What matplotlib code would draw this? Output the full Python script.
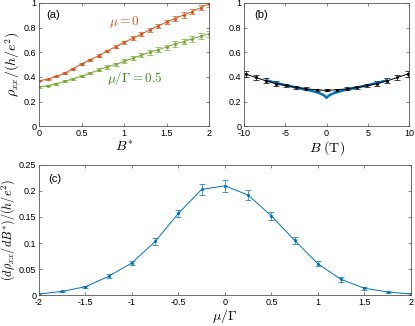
import numpy as np
import matplotlib
matplotlib.use('Agg')
import matplotlib.pyplot as plt
from matplotlib.ticker import FuncFormatter

plt.rcParams['font.family'] = ['Liberation Sans', 'DejaVu Sans']
plt.rcParams['mathtext.fontset'] = 'cm'

# panel (a): rho_xx vs B*
b_star = [0.0, 0.1, 0.2, 0.3, 0.4, 0.5, 0.6, 0.7, 0.8, 0.9, 1.0,
          1.1, 1.2, 1.3, 1.4, 1.5, 1.6, 1.7, 1.8, 1.9, 2.0]
rho_mu0 = [0.369, 0.380, 0.404, 0.430, 0.467, 0.505, 0.539, 0.572, 0.610, 0.645, 0.680,
           0.713, 0.745, 0.782, 0.813, 0.845, 0.873, 0.902, 0.930, 0.962, 0.990]
err_mu0 = [0.005, 0.005, 0.006, 0.007, 0.008, 0.009, 0.010, 0.011, 0.012, 0.013, 0.014,
           0.015, 0.016, 0.017, 0.018, 0.019, 0.020, 0.021, 0.022, 0.023, 0.024]
rho_mu05 = [0.317, 0.328, 0.344, 0.363, 0.385, 0.406, 0.431, 0.456, 0.480, 0.501, 0.526,
            0.550, 0.575, 0.599, 0.620, 0.642, 0.667, 0.686, 0.710, 0.729, 0.750]
err_mu05 = [0.006, 0.006, 0.007, 0.008, 0.009, 0.010, 0.011, 0.012, 0.013, 0.014, 0.015,
            0.016, 0.017, 0.018, 0.019, 0.020, 0.021, 0.022, 0.023, 0.024, 0.025]

# panel (b): rho_xx vs B (T)
b_field = [-9.8, -8.57, -7.35, -6.12, -4.9, -3.67, -2.45, -1.22, 0.0,
           1.22, 2.45, 3.67, 4.9, 6.12, 7.35, 8.57, 9.8]
rho_b = [0.423, 0.395, 0.368, 0.346, 0.330, 0.315, 0.303, 0.295, 0.290,
         0.295, 0.303, 0.315, 0.330, 0.346, 0.368, 0.395, 0.423]
err_b = [0.025, 0.022, 0.020, 0.017, 0.015, 0.013, 0.011, 0.010, 0.008,
         0.010, 0.011, 0.013, 0.015, 0.017, 0.020, 0.022, 0.025]
b_fit = [-7.3, -6.0, -5.0, -4.0, -3.0, -2.0, -1.0, -0.5, -0.2, 0.0,
         0.2, 0.5, 1.0, 2.0, 3.0, 4.0, 5.0, 6.0, 7.3]
rho_fit = [0.372, 0.348, 0.333, 0.318, 0.304, 0.290, 0.271, 0.257, 0.244, 0.230,
           0.244, 0.257, 0.271, 0.290, 0.304, 0.318, 0.333, 0.348, 0.372]

# panel (c): slope vs mu/Gamma
mu = [-2.0, -1.75, -1.5, -1.25, -1.0, -0.75, -0.5, -0.25, 0.0,
      0.25, 0.5, 0.75, 1.0, 1.25, 1.5, 1.75, 2.0]
slope = [0.002, 0.007, 0.016, 0.036, 0.062, 0.103, 0.157, 0.203, 0.210,
         0.192, 0.152, 0.105, 0.060, 0.030, 0.013, 0.006, 0.002]
err_slope = [0.001, 0.001, 0.002, 0.004, 0.004, 0.006, 0.007, 0.010, 0.012,
             0.010, 0.007, 0.006, 0.005, 0.004, 0.003, 0.002, 0.001]

orange = '#D95319'
green = '#77AC30'
green_txt = '#3C8C1E'
blue = '#0072BD'
axcol = '#555555'

fig = plt.figure(figsize=(4.15, 3.26), dpi=100)
ax_a = fig.add_axes([0.094, 0.613, 0.410, 0.378])
ax_b = fig.add_axes([0.588, 0.613, 0.398, 0.378])
ax_c = fig.add_axes([0.094, 0.095, 0.896, 0.399])

fmt = FuncFormatter(lambda v, p: '%g' % round(v, 4))


def style(ax):
    for s in ax.spines.values():
        s.set_color(axcol)
        s.set_linewidth(0.6)
    ax.tick_params(direction='in', top=True, right=True, length=2.5, width=0.5,
                   color=axcol, labelsize=6.5, pad=2)
    ax.xaxis.set_major_formatter(fmt)
    ax.yaxis.set_major_formatter(fmt)


ekw = dict(marker='.', markersize=2.5, linewidth=0.7, elinewidth=0.5, capsize=2, capthick=0.5)

ax_a.errorbar(b_star, rho_mu0, yerr=err_mu0, color=orange, **ekw)
ax_a.errorbar(b_star, rho_mu05, yerr=err_mu05, color=green, **ekw)
ax_a.set_xlim(0, 2)
ax_a.set_ylim(0, 1)
ax_a.set_xticks([0, 0.5, 1, 1.5, 2])
ax_a.set_yticks([0, 0.2, 0.4, 0.6, 0.8, 1])
ax_a.text(1.0, 0.845, r'$\mu=0$', color=orange, fontsize=9.5, ha='center', va='center')
ax_a.text(1.13, 0.39, r'$\mu/\Gamma=0.5$', color=green_txt, fontsize=9.5, ha='center', va='center')
ax_a.text(0.08, 0.90, '(a)', fontsize=8, ha='left', va='center')
ax_a.set_xlabel(r'$B^{*}$', fontsize=10, labelpad=1)
ax_a.set_ylabel(r'$\rho_{xx}/(h/e^2)$', fontsize=10, labelpad=1)
style(ax_a)

ax_b.errorbar(b_field, rho_b, yerr=err_b, color='black', **ekw)
ax_b.plot(b_fit, rho_fit, color=blue, linewidth=1.8)
ax_b.set_xlim(-10, 10)
ax_b.set_ylim(0, 1)
ax_b.set_xticks([-10, -5, 0, 5, 10])
ax_b.set_yticks([0, 0.2, 0.4, 0.6, 0.8, 1])
ax_b.text(-8.8, 0.90, '(b)', fontsize=8, ha='left', va='center')
ax_b.set_xlabel(r'$B\ (\mathrm{T})$', fontsize=10, labelpad=1)
style(ax_b)

ax_c.errorbar(mu, slope, yerr=err_slope, color=blue, **ekw)
ax_c.set_xlim(-2, 2)
ax_c.set_ylim(0, 0.25)
ax_c.set_xticks([-2, -1.5, -1, -0.5, 0, 0.5, 1, 1.5, 2])
ax_c.set_yticks([0, 0.05, 0.1, 0.15, 0.2, 0.25])
ax_c.text(-1.9, 0.223, '(c)', fontsize=8, ha='left', va='center')
ax_c.set_xlabel(r'$\mu/\Gamma$', fontsize=10, labelpad=0)
ax_c.set_ylabel(r'$(d\rho_{xx}/dB^{*})/(h/e^2)$', fontsize=8.8, labelpad=1)
style(ax_c)

fig.savefig('out.png', dpi=100)
